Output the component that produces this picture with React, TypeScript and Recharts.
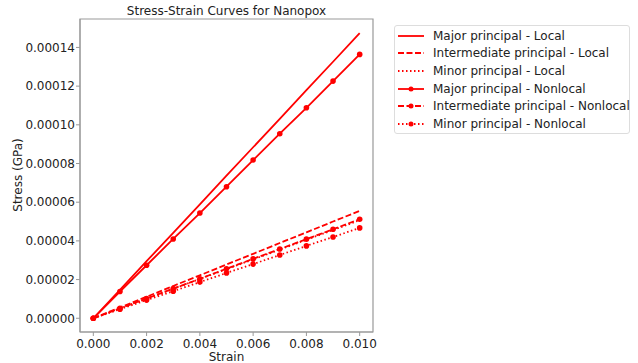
import React from "react";
import { LineChart, Line, XAxis, YAxis, ReferenceArea } from "recharts";

const strain = [0, 0.001, 0.002, 0.003, 0.004, 0.005, 0.006, 0.007, 0.008, 0.009, 0.01];

const majorLocal = [0, 0.0000147, 0.0000295, 0.0000442, 0.0000589, 0.0000737, 0.0000884, 0.0001031, 0.0001179, 0.0001326, 0.0001474];
const intermediateLocal = [0, 0.0000056, 0.0000111, 0.0000167, 0.0000222, 0.0000278, 0.0000333, 0.0000389, 0.0000444, 0.00005, 0.0000555];
const minorLocal = [0, 0.0000051, 0.0000101, 0.0000152, 0.0000203, 0.0000254, 0.0000304, 0.0000355, 0.0000406, 0.0000456, 0.0000507];
const majorNonlocal = [0, 0.0000138, 0.0000274, 0.000041, 0.0000544, 0.000068, 0.0000818, 0.0000954, 0.0001088, 0.0001226, 0.0001364];
const intermediateNonlocal = [0, 0.0000051, 0.0000102, 0.0000153, 0.0000204, 0.0000256, 0.0000307, 0.0000358, 0.0000409, 0.000046, 0.0000512];
const minorNonlocal = [0, 0.0000047, 0.0000094, 0.000014, 0.0000187, 0.0000234, 0.000028, 0.0000327, 0.0000374, 0.000042, 0.0000467];

const xTicks = [0, 0.002, 0.004, 0.006, 0.008, 0.01];
const yTicks = [0, 0.00002, 0.00004, 0.00006, 0.00008, 0.0001, 0.00012, 0.00014];
const xDomain = [-0.0005, 0.0105];
const yDomain = [-0.0000071, 0.0001547];

const RED = "#ff0000";
const FRAME = "#999";
const FONT = "'DejaVu Sans', sans-serif";

const series = [
  { key: "majorLocal", name: "Major principal - Local", values: majorLocal, dash: undefined, dot: false },
  { key: "intermediateLocal", name: "Intermediate principal - Local", values: intermediateLocal, dash: "6 2.5", dot: false },
  { key: "minorLocal", name: "Minor principal - Local", values: minorLocal, dash: "1.5 2.5", dot: false },
  { key: "majorNonlocal", name: "Major principal - Nonlocal", values: majorNonlocal, dash: undefined, dot: true },
  { key: "intermediateNonlocal", name: "Intermediate principal - Nonlocal", values: intermediateNonlocal, dash: "6 2.5", dot: true },
  { key: "minorNonlocal", name: "Minor principal - Nonlocal", values: minorNonlocal, dash: "1.5 2.5", dot: true },
];

const data = strain.map((s, i) => {
  const row: Record<string, number> = { strain: s };
  series.forEach((sr) => {
    row[sr.key] = sr.values[i];
  });
  return row;
});

const tickStyle = { fontSize: 12, fill: "#222", fontFamily: FONT };

function YLabel() {
  return (
    <text
      x={18}
      y={175}
      transform="rotate(-90 18 175)"
      textAnchor="middle"
      dominantBaseline="central"
      fontSize={12}
      fill="#222"
      fontFamily={FONT}
    >
      Stress (GPa)
    </text>
  );
}

export default function App() {
  return (
    <div style={{ position: "absolute", left: 0, top: 0, width: 638, height: 363, background: "#fff", fontFamily: FONT }}>
      <div
        style={{
          position: "absolute",
          left: 80,
          width: 293,
          top: 4,
          textAlign: "center",
          fontSize: 12,
          color: "#222",
        }}
      >
        Stress-Strain Curves for Nanopox
      </div>
      <LineChart width={638} height={363} data={data} margin={{ top: 19, right: 265, bottom: 0, left: 0 }}>
        <XAxis
          dataKey="strain"
          type="number"
          domain={xDomain}
          ticks={xTicks}
          tickFormatter={(v: number) => v.toFixed(3)}
          tick={tickStyle}
          tickSize={4}
          tickMargin={3}
          height={31}
          stroke={FRAME}
          interval={0}
          allowDataOverflow
          label={{ value: "Strain", position: "insideBottom", offset: 2, style: { fontSize: 12, fill: "#222", fontFamily: FONT } }}
        />
        <YAxis
          type="number"
          domain={yDomain}
          ticks={yTicks}
          tickFormatter={(v: number) => v.toFixed(5)}
          tick={tickStyle}
          tickSize={4}
          tickMargin={1}
          width={80}
          stroke={FRAME}
          interval={0}
          allowDataOverflow
          label={<YLabel />}
        />
        <ReferenceArea
          x1={xDomain[0]}
          x2={xDomain[1]}
          y1={yDomain[0]}
          y2={yDomain[1]}
          fill="none"
          fillOpacity={0}
          stroke={FRAME}
          strokeWidth={1.2}
          ifOverflow="extendDomain"
        />
        {series.map((sr) => (
          <Line
            key={sr.key}
            dataKey={sr.key}
            name={sr.name}
            type="linear"
            stroke={RED}
            strokeWidth={1.8}
            strokeDasharray={sr.dash}
            dot={sr.dot ? { r: 2.8, fill: RED, stroke: RED, strokeWidth: 0, strokeDasharray: "" } : false}
            activeDot={false}
            isAnimationActive={false}
          />
        ))}
      </LineChart>
      <div
        style={{
          position: "absolute",
          left: 394,
          top: 25,
          width: 234,
          height: 107,
          border: "1px solid #ddd",
          borderRadius: 3,
          background: "#fff",
          fontSize: 12,
          color: "#222",
        }}
      >
        {series.map((sr, i) => (
          <div key={sr.key} style={{ position: "absolute", left: 0, top: 1 + i * 17.6, height: 17.6, display: "flex", alignItems: "center", whiteSpace: "nowrap" }}>
            <svg width={28} height={10} style={{ marginLeft: 3 }}>
              <line x1={0} y1={5} x2={26} y2={5} stroke={RED} strokeWidth={1.8} strokeDasharray={sr.dash} />
              {sr.dot && <circle cx={13} cy={5} r={2.5} fill={RED} />}
            </svg>
            <span style={{ marginLeft: 7 }}>{sr.name}</span>
          </div>
        ))}
      </div>
    </div>
  );
}
